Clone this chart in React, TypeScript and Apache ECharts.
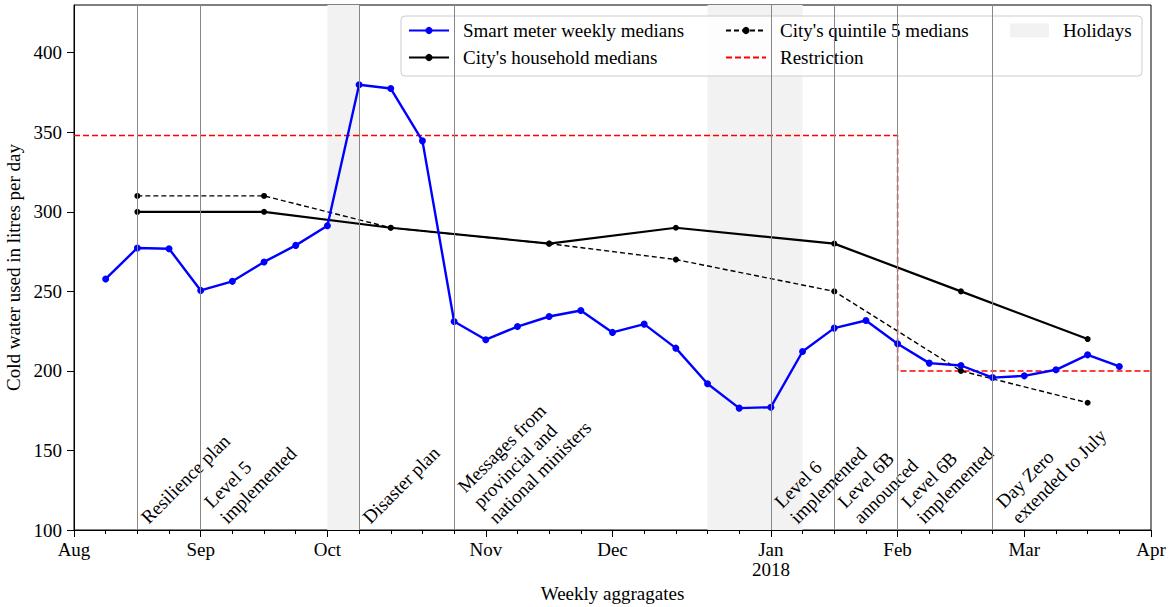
import React, { useEffect, useRef } from "react";
import * as echarts from "echarts";

const FONT = '"Liberation Serif", "Times New Roman", serif';

// x positions are weekly periods; week 0 = week of 31 Jul 2017
const totalWeeks = 34;
const monthTickWeeks = [0, 4, 8, 13, 17, 22, 26, 30, 34];
const monthTickLabels = ["Aug", "Sep", "Oct", "Nov", "Dec", "Jan\n2018", "Feb", "Mar", "Apr"];

const smartMeterWeeks = [1, 2, 3, 4, 5, 6, 7, 8, 9, 10, 11, 12, 13, 14, 15, 16, 17, 18, 19, 20, 21, 22, 23, 24, 25, 26, 27, 28, 29, 30, 31, 32, 33];
const smartMeterValues = [257.8, 277.3, 276.8, 250.6, 256.3, 268.5, 278.9, 291.3, 379.9, 377.5, 344.6, 231.1, 219.6, 227.9, 234.2, 238.0, 224.2, 229.4, 214.3, 191.9, 176.6, 177.2, 212.2, 226.9, 231.7, 217.1, 204.9, 203.4, 195.8, 196.9, 200.7, 210.1, 202.8];

const cityWeeks = [2, 6, 10, 15, 19, 24, 28, 32];
const householdValues = [300, 300, 290, 280, 290, 280, 250, 220];
const quintile5Values = [310, 310, 290, 280, 270, 250, 200, 180];

const restrictionWeeks = [0, 26, 26, 34];
const restrictionValues = [348, 348, 200, 200];

const holidayRanges = [
  [8, 9],
  [20, 23],
];

const eventWeeks = [2, 4, 9, 12, 22, 24, 26, 29];
const eventLabels = [
  "Resilience plan",
  "Level 5\nimplemented",
  "Disaster plan",
  "Messages from\nprovincial and\nnational ministers",
  "Level 6\nimplemented",
  "Level 6B\nannounced",
  "Level 6B\nimplemented",
  "Day Zero\nextended to July",
];

const yMin = 100;
const yMax = 430;
const yInterval = 50;

const zip = (xs: number[], ys: number[]) => xs.map((x, i) => [x, ys[i]]);

export default function App() {
  const ref = useRef<HTMLDivElement>(null);

  useEffect(() => {
    if (!ref.current) return;
    const chart = echarts.init(ref.current, null, { renderer: "svg" });
    const textBase = { fontFamily: FONT, fontSize: 19, color: "#000" };

    const option: any = {
      animation: false,
      backgroundColor: "#fff",
      textStyle: { fontFamily: FONT },
      grid: {
        left: 74,
        right: 19,
        top: 5,
        bottom: 77,
        containLabel: false,
        outerBoundsMode: "none",
        show: true,
        borderColor: "#000",
        borderWidth: 1,
        backgroundColor: "transparent",
      },
      xAxis: [
        {
          type: "value",
          min: 0,
          max: totalWeeks,
          position: "bottom",
          name: "Weekly aggragates",
          nameLocation: "middle",
          nameGap: 52,
          nameTextStyle: { ...textBase },
          axisLine: { show: true, onZero: false, lineStyle: { color: "#000", width: 1 } },
          axisTick: {
            show: true,
            length: 7,
            customValues: monthTickWeeks,
            lineStyle: { color: "#000", width: 1 },
          },
          axisLabel: {
            ...textBase,
            margin: 9,
            lineHeight: 20,
            customValues: monthTickWeeks,
            formatter: (v: number) => {
              const i = monthTickWeeks.indexOf(Math.round(v));
              return i >= 0 ? monthTickLabels[i] : "";
            },
          },
          splitLine: { show: false },
        },
        {
          type: "value",
          min: 0,
          max: totalWeeks,
          interval: 1,
          position: "bottom",
          axisLine: { show: false },
          axisTick: { show: true, length: 4, lineStyle: { color: "#000", width: 1 } },
          axisLabel: { show: false },
          splitLine: { show: false },
        },
      ],
      yAxis: {
        type: "value",
        min: yMin,
        max: yMax,
        interval: yInterval,
        name: "Cold water used in litres per day",
        nameLocation: "middle",
        nameGap: 40,
        nameTextStyle: { ...textBase },
        axisLine: { show: true, onZero: false, lineStyle: { color: "#000", width: 1 } },
        axisTick: { show: true, length: 7, lineStyle: { color: "#000", width: 1 } },
        axisLabel: { ...textBase, margin: 12, showMaxLabel: false },
        splitLine: { show: false },
      },
      legend: [
        {
          orient: "vertical",
          left: 408,
          top: 21,
          padding: 0,
          itemWidth: 40,
          itemHeight: 9,
          itemGap: 8,
          textStyle: { ...textBase, padding: [0, 0, 0, 9] },
          data: ["Smart meter weekly medians", "City's household medians"],
        },
        {
          orient: "vertical",
          left: 725,
          top: 21,
          padding: 0,
          itemWidth: 40,
          itemHeight: 9,
          itemGap: 8,
          textStyle: { ...textBase, padding: [0, 0, 0, 9] },
          data: ["City's quintile 5 medians", { name: "Restriction", itemStyle: { opacity: 0 } }],
        },
        {
          orient: "vertical",
          left: 1010,
          top: 21,
          padding: 0,
          itemWidth: 39,
          itemHeight: 14,
          itemGap: 8,
          textStyle: { ...textBase, padding: [0, 0, 0, 9] },
          data: [{ name: "Holidays", icon: "rect", itemStyle: { color: "#f2f2f2" } }],
        },
      ],
      graphic: [
        {
          type: "rect",
          id: "legendFrame",
          z: 3,
          silent: true,
          shape: { x: 401, y: 16, width: 741, height: 60, r: 4 },
          style: { fill: "rgba(255,255,255,0.8)", stroke: "#cccccc", lineWidth: 1 },
        },
      ],
      series: [
        {
          name: "Holidays",
          type: "line",
          z: 1,
          color: "#f2f2f2",
          data: [],
          markArea: {
            silent: true,
            itemStyle: { color: "#f2f2f2" },
            data: holidayRanges.map(([a, b]) => [{ xAxis: a }, { xAxis: b }]),
          },
        },
        {
          name: "events",
          type: "line",
          z: 1,
          data: [],
          markLine: {
            silent: true,
            symbol: ["none", "none"],
            label: { show: false },
            lineStyle: { color: "#888888", width: 1, type: "solid" },
            data: eventWeeks.map((w) => ({ xAxis: w })),
          },
        },
        {
          name: "Restriction",
          type: "line",
          z: 2,
          color: "#ff0000",
          symbol: "none",
          lineStyle: { color: "#ff0000", width: 1.5, type: [6, 3] },
          data: zip(restrictionWeeks, restrictionValues),
        },
        {
          name: "City's quintile 5 medians",
          type: "line",
          z: 3,
          color: "#000",
          symbol: "circle",
          symbolSize: 6,
          lineStyle: { color: "#000", width: 1.4, type: [5, 3] },
          itemStyle: { color: "#000" },
          data: zip(cityWeeks, quintile5Values),
        },
        {
          name: "City's household medians",
          type: "line",
          z: 3,
          color: "#000",
          symbol: "circle",
          symbolSize: 6,
          lineStyle: { color: "#000", width: 2.2 },
          itemStyle: { color: "#000" },
          data: zip(cityWeeks, householdValues),
        },
        {
          name: "Smart meter weekly medians",
          type: "line",
          z: 4,
          color: "#0000ff",
          symbol: "circle",
          symbolSize: 7,
          lineStyle: { color: "#0000ff", width: 2.4 },
          itemStyle: { color: "#0000ff" },
          data: zip(smartMeterWeeks, smartMeterValues),
        },
      ],
    };

    chart.setOption(option);

    const LH = 22;
    const s = Math.SQRT1_2;
    const texts = eventWeeks.map((w, i) => {
      const p = chart.convertToPixel({ xAxisIndex: 0, yAxisIndex: 0 }, [w, yMin]) as number[];
      const n = eventLabels[i].split("\n").length;
      const H = n * LH;
      return {
        type: "text",
        id: "ev" + i,
        z: 2,
        silent: true,
        x: p[0] + s * H - 1,
        y: p[1] - 2,
        rotation: Math.PI / 4,
        style: {
          text: eventLabels[i],
          fill: "#000",
          fontFamily: FONT,
          fontSize: 19,
          lineHeight: LH,
          align: "left",
          verticalAlign: "bottom",
        },
      };
    });
    chart.setOption({ graphic: texts });

    return () => chart.dispose();
  }, []);

  return (
    <div
      ref={ref}
      style={{ position: "absolute", left: 0, top: 0, width: 1170, height: 607 }}
    />
  );
}
